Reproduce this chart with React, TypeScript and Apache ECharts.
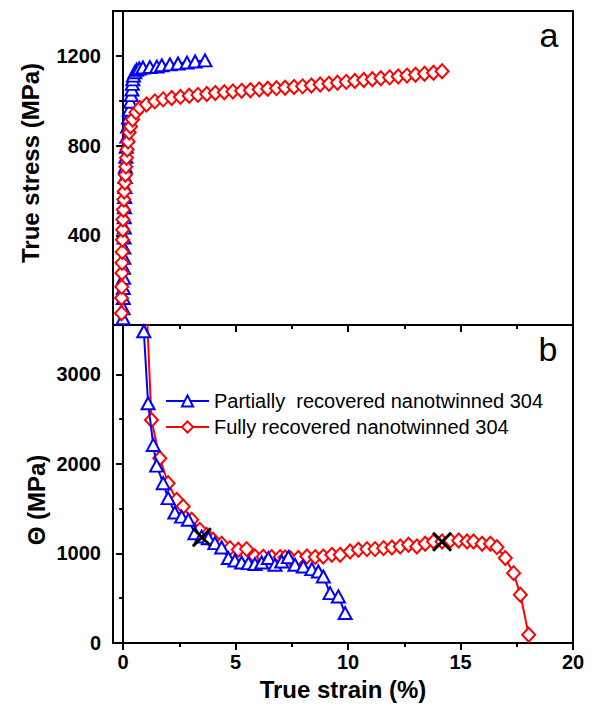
import React, { useEffect, useRef } from "react";
import * as echarts from "echarts";

// ---- Data ----
const partialName = "Partially  recovered nanotwinned 304";
const fullName = "Fully recovered nanotwinned 304";

// Panel a: true strain (%) vs true stress (MPa)
const stressPartial: [number, number][] = [
  [0.0, 30], [0.0, 75], [0.01, 120], [0.01, 165], [0.02, 210], [0.02, 255], [0.03, 300],
  [0.03, 345], [0.04, 390], [0.05, 435], [0.05, 480], [0.06, 525], [0.07, 570], [0.08, 615],
  [0.09, 660], [0.1, 705], [0.12, 750], [0.14, 795], [0.17, 840], [0.2, 885], [0.24, 925],
  [0.28, 960], [0.32, 995], [0.36, 1025], [0.39, 1050], [0.41, 1075], [0.43, 1095], [0.46, 1112],
  [0.52, 1127], [0.6, 1138], [0.72, 1144], [0.88, 1148], [1.19, 1150], [1.5, 1152], [1.72, 1158],
  [2.08, 1162], [2.44, 1166], [2.84, 1170], [3.2, 1175], [3.64, 1180],
];
const stressFull: [number, number][] = [
  [-0.07, 52], [-0.07, 120], [-0.06, 170], [-0.05, 232], [-0.05, 277], [-0.04, 326], [-0.03, 380],
  [-0.02, 425], [-0.01, 470], [0.01, 514], [0.03, 559], [0.05, 595], [0.08, 635], [0.1, 670],
  [0.12, 706], [0.15, 746], [0.18, 782], [0.22, 818], [0.27, 858], [0.33, 885], [0.42, 916],
  [0.57, 948], [0.74, 968], [1.04, 983], [1.41, 997], [1.78, 1006], [2.16, 1012], [2.55, 1017],
  [2.94, 1022], [3.33, 1026], [3.72, 1030], [4.1, 1034], [4.5, 1038], [4.88, 1041], [5.27, 1044],
  [5.66, 1047], [6.05, 1050], [6.43, 1053], [6.82, 1056], [7.2, 1058], [7.6, 1061], [7.98, 1064],
  [8.37, 1068], [8.76, 1072], [9.15, 1076], [9.53, 1080], [9.92, 1084], [10.3, 1088], [10.7, 1092],
  [11.08, 1096], [11.46, 1100], [11.85, 1104], [12.23, 1108], [12.62, 1112], [13.0, 1116],
  [13.4, 1120], [13.8, 1125], [14.18, 1131],
];

// Panel b: true strain (%) vs Θ (MPa)
const thetaPartial: [number, number][] = [
  [0.92, 3480], [1.11, 2676], [1.34, 2211], [1.49, 1980], [1.78, 1784], [2.0, 1617], [2.3, 1456],
  [2.6, 1411], [2.9, 1375], [3.19, 1226], [3.49, 1188], [3.79, 1170], [4.08, 1115], [4.38, 1066],
  [4.68, 948], [4.97, 921], [5.27, 899], [5.57, 892], [5.86, 881], [6.16, 899], [6.46, 948],
  [6.75, 873], [7.05, 910], [7.35, 959], [7.64, 873], [8.01, 854], [8.39, 825], [8.68, 798],
  [8.9, 742], [9.2, 557], [9.57, 520], [9.87, 334],
];
const thetaFull: [number, number][] = [
  [1.02, 3900], [1.26, 2489], [1.63, 2062], [2.0, 1784], [2.38, 1598], [2.67, 1523], [3.05, 1375],
  [3.41, 1263], [3.71, 1207], [4.0, 1152], [4.38, 1107], [4.75, 1059], [5.12, 1040], [5.49, 1048],
  [5.86, 965], [6.23, 962], [6.6, 959], [6.98, 959], [7.2, 955], [7.42, 948], [7.79, 948],
  [8.17, 965], [8.54, 959], [8.9, 965], [9.28, 984], [9.65, 984], [10.09, 1021], [10.46, 1040],
  [10.84, 1048], [11.2, 1048], [11.58, 1059], [11.95, 1066], [12.32, 1077], [12.69, 1096],
  [13.06, 1077], [13.43, 1107], [13.8, 1133], [14.18, 1133], [14.55, 1144], [14.92, 1144],
  [15.29, 1133], [15.58, 1133], [15.96, 1107], [16.33, 1107], [16.62, 1070], [16.99, 948],
  [17.36, 780], [17.66, 538], [18.03, 93],
];
// Onset of necking marks (×)
const neckMarks: [number, number][] = [[3.5, 1180], [14.18, 1130]];

// Ticks
const xMajor = [0, 5, 10, 15, 20];
const xMinor = [2.5, 7.5, 12.5, 17.5];
const yStressMajor = [400, 800, 1200];
const yStressMinor = [200, 600, 1000];
const yThetaMajor = [0, 1000, 2000, 3000];
const yThetaMinor = [500, 1500, 2500];

const FONT = "'Liberation Sans', Arial, sans-serif";
const BLUE = "#0000ff";
const RED = "#ff0000";

export default function App() {
  const ref = useRef<HTMLDivElement>(null);
  useEffect(() => {
    document.body.style.margin = "0";
    if (!ref.current) return;
    const chart = echarts.init(ref.current, undefined, { renderer: "svg" });

    const tickLabel = {
      fontFamily: FONT,
      fontWeight: "bold" as const,
      fontSize: 20,
      color: "#000",
      formatter: (v: number) => String(v),
    };
    const axLine = { show: true, lineStyle: { color: "#000", width: 2 } };

    const xAxisBase = (gridIndex: number, labels: boolean, minor: boolean) => ({
      type: "value",
      gridIndex,
      position: "bottom",
      min: -0.45,
      max: 20,
      axisLine: minor ? { show: false } : axLine,
      splitLine: { show: false },
      axisTick: {
        show: true,
        inside: false,
        length: minor ? 4 : 7,
        customValues: minor ? xMinor : xMajor,
        lineStyle: { color: "#000", width: 2 },
      },
      axisLabel: labels && !minor
        ? { show: true, customValues: xMajor, margin: 9, ...tickLabel }
        : { show: false },
    });

    const yAxisBase = (gridIndex: number, max: number, major: number[], minorV: number[], minor: boolean) => ({
      type: "value",
      gridIndex,
      position: "left",
      min: 0,
      max,
      axisLine: minor ? { show: false } : axLine,
      splitLine: { show: false },
      axisTick: {
        show: true,
        inside: false,
        length: minor ? 4 : 7,
        customValues: minor ? minorV : major,
        lineStyle: { color: "#000", width: 2 },
      },
      axisLabel: minor
        ? { show: false }
        : { show: true, customValues: major, margin: 12, ...tickLabel },
    });

    const lineSeries = (
      name: string,
      data: [number, number][],
      idx: number,
      color: string,
      symbol: string,
      symbolSize: number | number[],
      z: number
    ) => ({
      name,
      type: "line",
      xAxisIndex: idx,
      yAxisIndex: idx,
      data,
      symbol,
      symbolSize,
      showAllSymbol: true,
      z,
      lineStyle: { color, width: 2 },
      itemStyle: { color: "#fff", borderColor: color, borderWidth: 2 },
      emphasis: { disabled: true },
    });

    chart.setOption({
      animation: false,
      grid: [
        { left: 113, right: 21, top: 11, height: 314, show: true, borderColor: "#000", borderWidth: 2, backgroundColor: "transparent" },
        { left: 113, right: 21, top: 325, height: 318, show: true, borderColor: "#000", borderWidth: 2, backgroundColor: "transparent" },
      ],
      xAxis: [
        xAxisBase(0, false, false),
        xAxisBase(1, true, false),
        xAxisBase(0, false, true),
        xAxisBase(1, false, true),
      ],
      yAxis: [
        yAxisBase(0, 1400, yStressMajor, yStressMinor, false),
        yAxisBase(1, 3550, yThetaMajor, yThetaMinor, false),
        yAxisBase(0, 1400, yStressMajor, yStressMinor, true),
        yAxisBase(1, 3550, yThetaMajor, yThetaMinor, true),
      ],
      legend: {
        orient: "vertical",
        left: 160,
        top: 386,
        itemWidth: 43,
        itemHeight: 14,
        itemGap: 6,
        data: [partialName, fullName],
        textStyle: { fontFamily: FONT, fontSize: 20, color: "#000" },
        selectedMode: false,
      },
      series: [
        lineSeries(partialName, stressPartial, 0, BLUE, "triangle", [13, 12], 2),
        lineSeries(fullName, stressFull, 0, RED, "diamond", [13, 14], 3),
        lineSeries(fullName, thetaFull, 1, RED, "diamond", [13, 14], 2),
        lineSeries(partialName, thetaPartial, 1, BLUE, "triangle", [13, 12], 3),
        {
          name: "neck",
          type: "scatter",
          xAxisIndex: 1,
          yAxisIndex: 1,
          data: neckMarks,
          symbol: "path://M0,0L10,10M10,0L0,10",
          symbolSize: 18,
          z: 10,
          itemStyle: { color: "none", borderColor: "#000", borderWidth: 3, opacity: 1 },
          emphasis: { disabled: true },
        },
      ],
      graphic: [
        {
          type: "text",
          x: 30,
          y: 163,
          rotation: Math.PI / 2,
          style: {
            text: "True stress (MPa)",
            font: `bold 24px ${FONT}`,
            fill: "#000",
            textAlign: "center",
            textVerticalAlign: "middle",
          },
        },
        {
          type: "text",
          x: 36,
          y: 500,
          rotation: Math.PI / 2,
          style: {
            text: "Θ (MPa)",
            font: `bold 24px ${FONT}`,
            fill: "#000",
            textAlign: "center",
            textVerticalAlign: "middle",
          },
        },
        {
          type: "text",
          x: 343,
          y: 689,
          style: {
            text: "True strain (%)",
            font: `bold 24px ${FONT}`,
            fill: "#000",
            textAlign: "center",
            textVerticalAlign: "middle",
          },
        },
        {
          type: "text",
          x: 549,
          y: 52,
          style: { text: "a", font: `34px ${FONT}`, fill: "#000", textAlign: "center", textVerticalAlign: "bottom" },
        },
        {
          type: "text",
          x: 548,
          y: 366,
          style: { text: "b", font: `34px ${FONT}`, fill: "#000", textAlign: "center", textVerticalAlign: "bottom" },
        },
      ],
    });
    return () => chart.dispose();
  }, []);
  return <div ref={ref} style={{ width: 594, height: 710 }} />;
}
